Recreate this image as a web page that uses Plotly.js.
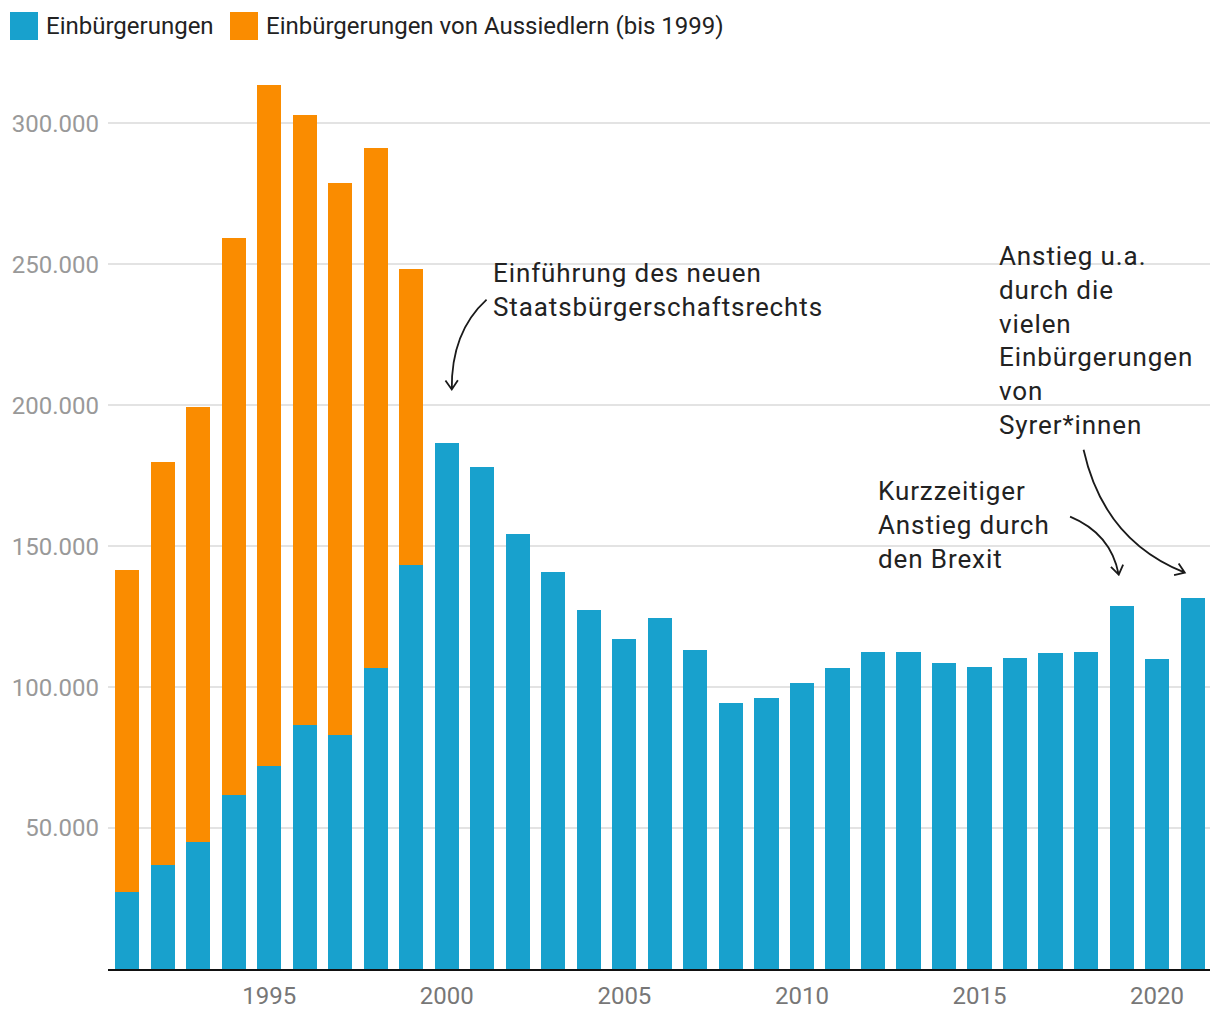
<!DOCTYPE html>
<html>
<head>
<meta charset="utf-8">
<script src="https://cdn.plot.ly/plotly-3.0.1.min.js"></script>
<style>
html,body{margin:0;padding:0;background:#fff;}
#chart{width:1220px;height:1020px;}
g.annotation[data-index="0"] text, g.annotation[data-index="1"] text, g.annotation[data-index="2"] text {letter-spacing:0.9px;}
</style>
</head>
<body>
<div id="chart"></div>
<script>
const years = [1991,1992,1993,1994,1995,1996,1997,1998,1999,2000,2001,2002,2003,2004,2005,2006,2007,2008,2009,2010,2011,2012,2013,2014,2015,2016,2017,2018,2019,2020,2021];
const einbuergerungen = [27300,37000,45000,61700,72000,86400,82900,106800,143300,186700,178100,154500,140700,127200,117200,124600,113000,94500,96100,101600,106900,112300,112400,108400,107300,110400,112200,112300,128900,109900,131600];
const aussiedler = [114300,142900,154500,197500,241600,216500,195800,184500,104900,0,0,0,0,0,0,0,0,0,0,0,0,0,0,0,0,0,0,0,0,0,0];
const seriesNames = ["Einbürgerungen","Einbürgerungen von Aussiedlern (bis 1999)"];
const yTickVals = [50000,100000,150000,200000,250000,300000];
const yTickText = ["50.000","100.000","150.000","200.000","250.000","300.000"];
const xTickVals = [1995,2000,2005,2010,2015,2020];
const notes = [
  "Einführung des neuen<br>Staatsbürgerschaftsrechts",
  "Kurzzeitiger<br>Anstieg durch<br>den Brexit",
  "Anstieg u.a.<br>durch die<br>vielen<br>Einbürgerungen<br>von<br>Syrer*innen"
];

const BLUE = "#18a1cd", ORANGE = "#fa8c00";
const FONT = "Roboto, 'Open Sans', sans-serif";

const traces = [
  {type:"bar", x:years, y:einbuergerungen, name:seriesNames[0], marker:{color:BLUE}, hoverinfo:"x+y"},
  {type:"bar", x:years, y:aussiedler.map(v=>v===0?null:v), name:seriesNames[1], marker:{color:ORANGE}, hoverinfo:"x+y"}
];

// pixel scale helpers for arrow heads (plot area 1102 x 902 px)
const X0 = 1990.46, X1 = 2021.49, Y0 = 0, Y1 = 320000;
const pxPerX = 1102/(X1-X0), pxPerY = 902/(Y1-Y0);
function curvedArrow(s, c, e){
  const dx = (e[0]-c[0])*pxPerX, dy = (e[1]-c[1])*pxPerY;
  const L = Math.hypot(dx,dy); const ux=dx/L, uy=dy/L;
  const len = 11, ang = 0.6;
  const arm = (a)=>{
    const cx = -(ux*Math.cos(a) - uy*Math.sin(a))*len;
    const cy = -(ux*Math.sin(a) + uy*Math.cos(a))*len;
    return [e[0]+cx/pxPerX, e[1]+cy/pxPerY];
  };
  const a1 = arm(ang), a2 = arm(-ang);
  const path = `M ${s[0]},${s[1]} Q ${c[0]},${c[1]} ${e[0]},${e[1]} M ${a1[0]},${a1[1]} L ${e[0]},${e[1]} L ${a2[0]},${a2[1]}`;
  return {type:"path", xref:"x", yref:"y", path:path, line:{color:"#1a1a1a", width:1.8}};
}

const shapes = [
  curvedArrow([2001.12,237500],[2000.12,226000],[2000.14,205600]),
  curvedArrow([2017.55,160500],[2018.7,154500],[2018.92,139900]),
  curvedArrow([2017.93,184200],[2018.5,152000],[2020.78,140600]),
  {type:"rect", xref:"paper", yref:"paper", x0:(10-108)/1102, x1:(38-108)/1102, y0:(969-40)/902, y1:(969-12)/902, fillcolor:BLUE, line:{width:0}},
  {type:"rect", xref:"paper", yref:"paper", x0:(230-108)/1102, x1:(258-108)/1102, y0:(969-40)/902, y1:(969-12)/902, fillcolor:ORANGE, line:{width:0}}
];

const noteFont = {family:FONT, size:26, color:"#222"};
const legFont = {family:FONT, size:24, color:"#222"};
const annotations = [
  {x:2001.235, y:253000, xref:"x", yref:"y", text:notes[0], showarrow:false, xanchor:"left", yanchor:"top", align:"left", font:noteFont},
  {x:2012.075, y:175500, xref:"x", yref:"y", text:notes[1], showarrow:false, xanchor:"left", yanchor:"top", align:"left", font:noteFont},
  {x:2015.495, y:259000, xref:"x", yref:"y", text:notes[2], showarrow:false, xanchor:"left", yanchor:"top", align:"left", font:noteFont},
  {x:(44-108)/1102, y:(969-26)/902, xref:"paper", yref:"paper", text:seriesNames[0], showarrow:false, xanchor:"left", yanchor:"middle", font:legFont},
  {x:(264-108)/1102, y:(969-26)/902, xref:"paper", yref:"paper", text:seriesNames[1], showarrow:false, xanchor:"left", yanchor:"middle", font:legFont}
];

const layout = {
  width:1220, height:1020,
  margin:{l:108, r:10, t:67, b:51},
  barmode:"stack", bargap:0.32,
  showlegend:false,
  separators:",.",
  paper_bgcolor:"#fff", plot_bgcolor:"#fff",
  font:{family:FONT},
  xaxis:{range:[X0,X1], tickvals:xTickVals, ticks:"", showgrid:false, zeroline:false,
         showline:true, linecolor:"#111", linewidth:2,
         tickfont:{family:FONT, size:24, color:"#777"}, ticklabelstandoff:4},
  yaxis:{range:[Y0,Y1], tickvals:yTickVals, ticktext:yTickText, ticks:"", showgrid:true, gridcolor:"#e3e3e3", gridwidth:2,
         zeroline:false, showline:false, tickfont:{family:FONT, size:24, color:"#999"}, ticklabelstandoff:8},
  shapes:shapes,
  annotations:annotations
};

Plotly.newPlot("chart", traces, layout, {displayModeBar:false, staticPlot:true});
</script>
</body>
</html>
